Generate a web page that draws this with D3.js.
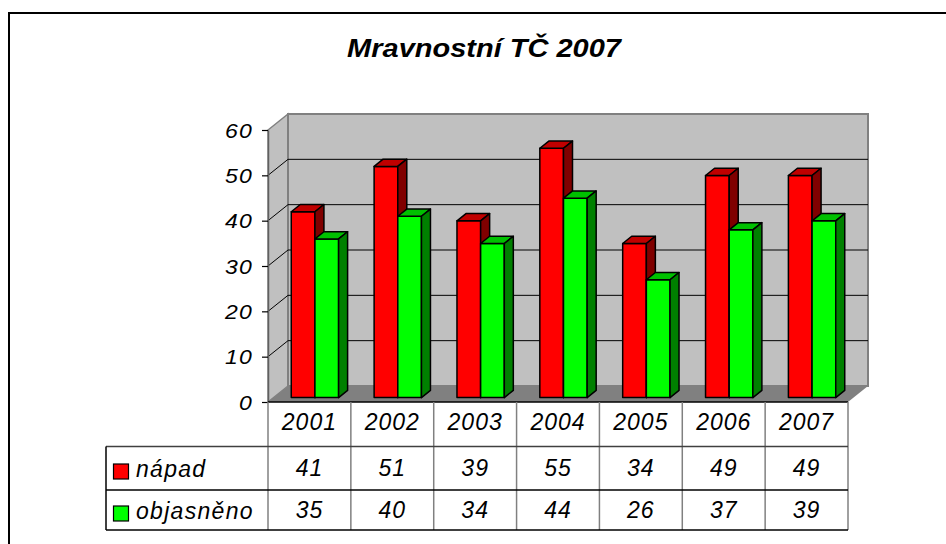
<!DOCTYPE html>
<html><head><meta charset="utf-8">
<script src="https://cdn.jsdelivr.net/npm/d3@7"></script>
<style>
html,body{margin:0;padding:0;background:#fff;}
text{font-family:"Liberation Sans",Arial,sans-serif;font-style:italic;fill:#000;}
</style></head>
<body>
<script>
const title = "Mravnostní TČ 2007";
const categories = ["2001","2002","2003","2004","2005","2006","2007"];
const seriesNames = ["nápad","objasněno"];
const napad = [41,51,39,55,34,49,49];
const objasneno = [35,40,34,44,26,37,39];
const yTicks = [0,10,20,30,40,50,60];
const seriesValues = [napad, objasneno];
const seriesColors = [
  {front:"#ff0000", top:"#c00000", side:"#800000"},
  {front:"#00ff00", top:"#00c000", side:"#008000"}
];

const W = 946, H = 544;
const svg = d3.select("body").append("svg").attr("width", W).attr("height", H);

// geometry
const x0 = 268, y0 = 402, plotW = 580, plotH = 272;
const dX = 20, dY = -16;        // depth vector
const zFront = 0.275, zDepth = 0.45;

const yFront = d3.scaleLinear().domain([0,60]).range([y0, y0 - plotH]);
const xCat = d3.scaleBand().domain(categories).range([x0, x0 + plotW]).padding(0);
const xSer = d3.scaleBand().domain(seriesNames).range([0, xCat.bandwidth()]).paddingInner(0).paddingOuter(0.75);

const P = (x, v, z) => [x + z*dX, yFront(v) + z*dY];

// outer frame
svg.append("path").attr("d", `M9,${H+10} V13 H${W+10}`).attr("fill","none").attr("stroke","#000").attr("stroke-width",2);

// title
svg.append("text").attr("transform","translate(484,57) scale(1.16,1)")
  .attr("text-anchor","middle").style("font-size","25px").style("font-weight","bold").text(title);

const poly = pts => "M" + pts.map(p => p.join(",")).join("L") + "Z";

// walls
const g = svg.append("g");
g.append("path").attr("d", poly([P(x0,0,0), P(x0,60,0), P(x0,60,1), P(x0,0,1)]))
  .attr("fill","#c0c0c0").attr("stroke","#808080").attr("stroke-width",1.5);
g.append("path").attr("d", poly([P(x0,0,1), P(x0,60,1), P(x0+plotW,60,1), P(x0+plotW,0,1)]))
  .attr("fill","#c0c0c0").attr("stroke","#808080").attr("stroke-width",2);
g.append("path").attr("d", poly([P(x0,0,0), P(x0+plotW,0,0), P(x0+plotW,0,1), P(x0,0,1)]))
  .attr("fill","#808080");

// gridlines
yTicks.filter(v => v > 0 && v < 60).forEach(v => {
  const a = P(x0,v,0), b = P(x0,v,1), c = P(x0+plotW,v,1);
  g.append("path").attr("d", `M${a}L${b}L${c}`).attr("fill","none").attr("stroke","#000").attr("stroke-width",1);
});

// axis
const axis = svg.append("g").attr("transform", `translate(${x0},0)`)
  .call(d3.axisLeft(yFront).tickValues(yTicks).tickSize(6).tickSizeOuter(0));
axis.select(".domain").attr("stroke","#606060").attr("stroke-width",1.5);
axis.selectAll(".tick line").attr("stroke","#000").attr("stroke-width",1.2);
axis.selectAll(".tick text").each(function(d){
  d3.select(this).attr("x",null).attr("dy",null)
    .attr("transform", "translate(-15,7) scale(1.15,1)")
    .attr("text-anchor","end").style("font-size","20px").style("letter-spacing","1px")
    .style("font-family","'Liberation Sans',Arial,sans-serif").style("font-style","italic");
});

// bars
const bars = svg.append("g");
categories.forEach((c, i) => {
  seriesNames.forEach((s, j) => {
    const v = seriesValues[j][i];
    const col = seriesColors[j];
    const xl = xCat(c) + xSer(s), xr = xl + xSer.bandwidth();
    const z1 = zFront, z2 = zFront + zDepth;
    const front = [P(xl,0,z1), P(xl,v,z1), P(xr,v,z1), P(xr,0,z1)];
    const top = [P(xl,v,z1), P(xl,v,z2), P(xr,v,z2), P(xr,v,z1)];
    const side = [P(xr,0,z1), P(xr,v,z1), P(xr,v,z2), P(xr,0,z2)];
    [[front,col.front],[top,col.top],[side,col.side]].forEach(([pts,f]) => {
      bars.append("path").attr("d", poly(pts)).attr("fill", f)
        .attr("stroke","#000").attr("stroke-width",1.5).attr("stroke-linejoin","round");
    });
  });
});

// floor front edge
svg.append("line").attr("x1",x0).attr("x2",x0+plotW).attr("y1",y0).attr("y2",y0)
  .attr("stroke","#000").attr("stroke-width",1.5);

// data table
const tLeft = 106, rowY = [402, 446.5, 490, 530];
const tbl = svg.append("g");
d3.range(categories.length + 1).forEach(k => {
  const x = k < categories.length ? xCat(categories[k]) : x0 + plotW;
  tbl.append("line").attr("x1",x).attr("x2",x).attr("y1",rowY[0]).attr("y2",rowY[3])
    .attr("stroke","#808080").attr("stroke-width",1.5);
});
[1,2,3].forEach(r => {
  tbl.append("line").attr("x1",tLeft).attr("x2",x0+plotW).attr("y1",rowY[r]).attr("y2",rowY[r])
    .attr("stroke", r === 1 ? "#404040" : "#000").attr("stroke-width",1.5);
});
tbl.append("line").attr("x1",tLeft).attr("x2",tLeft).attr("y1",rowY[1]).attr("y2",rowY[3])
  .attr("stroke","#000").attr("stroke-width",1.5);

const fs = "23px";
categories.forEach((c, i) => {
  const cx = xCat(c) + xCat.bandwidth()/2;
  tbl.append("text").attr("x",cx).attr("y",430).attr("text-anchor","middle")
    .style("font-size",fs).style("letter-spacing","1px").text(c);
  seriesValues.forEach((vals, j) => {
    tbl.append("text").attr("x",cx).attr("y", j === 0 ? 476 : 518).attr("text-anchor","middle")
      .style("font-size",fs).style("letter-spacing","1px").text(vals[i]);
  });
});
seriesNames.forEach((s, j) => {
  const yb = j === 0 ? 476.5 : 518.5;
  tbl.append("rect").attr("x",113.5).attr("y", j === 0 ? 464 : 506).attr("width",15).attr("height",15)
    .attr("fill", seriesColors[j].front).attr("stroke","#000").attr("stroke-width",1.2);
  tbl.append("text").attr("x",136).attr("y",yb).style("font-size",fs).style("letter-spacing","1.3px").text(s);
});
</script>
</body></html>
